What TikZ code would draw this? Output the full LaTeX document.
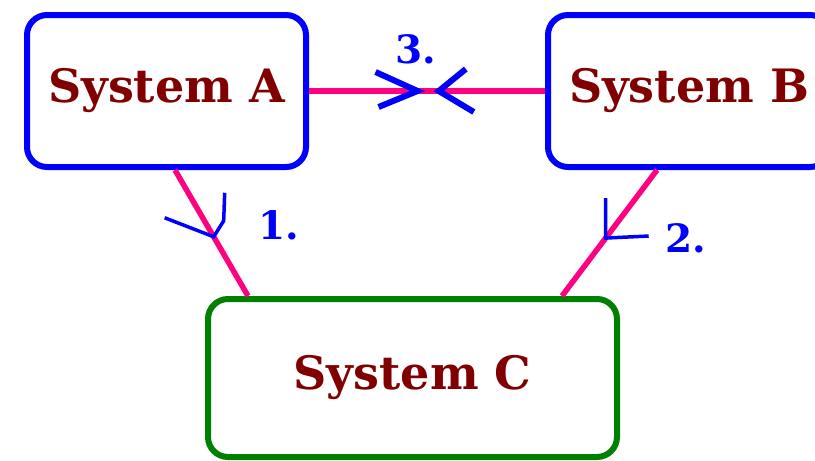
\documentclass[tikz,border=0pt]{standalone}
\usepackage{fontspec}
\setmainfont{DejaVu Serif}
\usepackage{tikz}
\usetikzlibrary{positioning,calc}
\definecolor{sysblue}{RGB}{0,0,255}
\definecolor{sysgreen}{RGB}{0,128,0}
\definecolor{sysred}{RGB}{128,0,0}
\definecolor{linkpink}{RGB}{255,0,128}
\tikzset{
  sysbox/.style={draw=sysblue,line width=6pt,rounded corners=20pt,text=sysred,
    font=\fontsize{46}{52}\selectfont\bfseries},
  link/.style={draw=linkpink,line width=5.5pt},
  tick/.style={draw=sysblue,line width=3.5pt},
  bigtick/.style={draw=sysblue,line width=6pt},
  num/.style={text=sysblue,font=\fontsize{39}{45}\selectfont\bfseries}
}
\begin{document}
\begin{tikzpicture}[x=1pt,y=-1pt]
      \clip (0,0) rectangle (815,461);
      \node[sysbox,minimum width=279pt,minimum height=152pt] (A) at (166.5,91) {System A};
      \node[sysbox,minimum width=282pt,minimum height=152pt] (B) at (689,91) {System B};
      \node[sysbox,draw=sysgreen,minimum width=409pt,minimum height=158pt] (C) at (412.5,378) {System C};

      \draw[link] (A.east) -- coordinate[pos=.46](h1) coordinate[pos=.55](h2) (B.west);
      \draw[link] ([xshift=8.5pt]A.south) -- coordinate[pos=.53](a1) ([xshift=-164.5pt]C.north);
      \draw[link] ([xshift=-32pt]B.south) -- coordinate[pos=.54](b1) ([xshift=149.5pt]C.north);

      % hand drawn heads
      \draw[bigtick] (h1) ++(-42,-19) -- (h1) -- ++(-39,16);
      \draw[bigtick] (h2) ++(27,-22) -- (h2) -- ++(35,21);
      \draw[tick] (a1) ++(-49,-19) -- (a1) -- ++(10,-16) -- ++(1,-28);
      \draw[tick] (b1) ++(0,-40) -- (b1) -- ++(43,-2);

      \node[num] (n3) at (416,49) {3.};
      \node[num] (n1) at (279,225) {1.};
      \node[num] (n2) at (686,238) {2.};
    \end{tikzpicture}
\end{document}
